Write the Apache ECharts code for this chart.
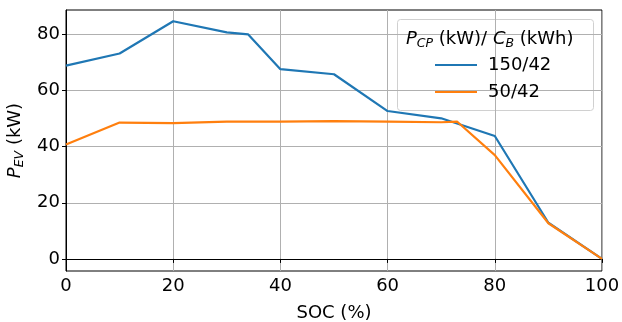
<!DOCTYPE html>
<html><head><meta charset="utf-8">
<script src="https://cdn.jsdelivr.net/npm/echarts@6/dist/echarts.min.js"></script>
<style>html,body{margin:0;padding:0;background:#fff}#c{width:622px;height:322px}</style>
</head><body><div id="c"></div>
<script>
const soc150 = [0, 10, 20, 30, 34, 40, 50, 60, 70, 80, 90, 100];
const pev150 = [68.9, 73.2, 84.7, 80.7, 80.0, 67.6, 65.8, 52.7, 50.1, 43.8, 12.9, 0];
const soc50 = [0, 10, 20, 30, 40, 50, 60, 70, 73, 80, 90, 100];
const pev50 = [40.8, 48.6, 48.4, 48.9, 48.9, 49.1, 48.9, 48.7, 48.9, 37.0, 12.7, 0];
const xTicks = [0, 20, 40, 60, 80, 100];
const yTicks = [0, 20, 40, 60, 80];
const seriesNames = ['150/42', '50/42'];

const font = 'DejaVu Sans';
const fs = 18;
const sfs = 12.5;
const chart = echarts.init(document.getElementById('c'), null, {renderer: 'canvas'});
const toPairs = (xs, ys) => xs.map((x, i) => [x, ys[i]]);
chart.setOption({
  animation: false,
  grid: {left: 66, right: 20, top: 10, bottom: 51, outerBoundsMode: 'none', containLabel: false,
         show: true, borderColor: '#000', borderWidth: 1, backgroundColor: 'transparent'},
  xAxis: {
    type: 'value', min: 0, max: 100, interval: 20,
    name: 'SOC (%)', nameLocation: 'middle', nameGap: 33,
    nameTextStyle: {fontFamily: font, fontSize: fs, color: '#000'},
    axisLine: {show: true, lineStyle: {color: '#000', width: 1}},
    axisTick: {show: true, length: 4, lineStyle: {color: '#000'}},
    axisLabel: {fontFamily: font, fontSize: fs, color: '#000', margin: 6},
    splitLine: {show: true, lineStyle: {color: '#b0b0b0', width: 1}}
  },
  yAxis: {
    type: 'value', min: -4.3, max: 88.7,
    axisLine: {show: true, onZero: false, lineStyle: {color: '#000', width: 1}},
    axisTick: {show: true, length: 4, customValues: yTicks, lineStyle: {color: '#000'}},
    axisLabel: {fontFamily: font, fontSize: fs, color: '#000', margin: 6, customValues: yTicks},
    splitLine: {show: true, customValues: yTicks, lineStyle: {color: '#b0b0b0', width: 1}},
    name: '{i|P}{sub|EV}{n| (kW)}', nameLocation: 'middle', nameRotate: 90, nameGap: 39,
    nameTextStyle: {
      rich: {
        i: {fontFamily: font, fontSize: fs, fontStyle: 'italic', color: '#000'},
        sub: {fontFamily: font, fontSize: sfs, fontStyle: 'italic', color: '#000', padding: [9, 0, 0, 0]},
        n: {fontFamily: font, fontSize: fs, color: '#000'}
      }
    }
  },
  title: {
    text: '{i|P}{sub|CP}{n| (kW)/ }{i|C}{sub|B}{n| (kWh)}',
    left: 401, top: 23,
    textStyle: {
      fontWeight: 'normal',
      rich: {
        i: {fontFamily: font, fontSize: fs, fontStyle: 'italic', fontWeight: 'normal', color: '#000'},
        sub: {fontFamily: font, fontSize: sfs, fontStyle: 'italic', fontWeight: 'normal', color: '#000', padding: [9, 0, 0, 0]},
        n: {fontFamily: font, fontSize: fs, fontWeight: 'normal', color: '#000'}
      }
    }
  },
  graphic: [{
    type: 'rect', left: 397, top: 19, z: 0,
    shape: {width: 196, height: 91, r: 3},
    style: {fill: 'rgba(255,255,255,0.8)', stroke: '#d0d0d0', lineWidth: 1}
  }],
  legend: {
    data: seriesNames, orient: 'vertical', left: 430, top: 51,
    itemWidth: 42, itemHeight: 2, itemGap: 9,
    icon: 'rect',
    textStyle: {fontFamily: font, fontSize: fs, color: '#000', padding: [0, 0, 0, 6]}
  },
  series: [
    {name: seriesNames[0], type: 'line', data: toPairs(soc150, pev150), showSymbol: false, symbol: 'none',
     lineStyle: {color: '#1f77b4', width: 2.2}, itemStyle: {color: '#1f77b4'}, z: 3},
    {name: seriesNames[1], type: 'line', data: toPairs(soc50, pev50), showSymbol: false, symbol: 'none',
     lineStyle: {color: '#ff7f0e', width: 2.2}, itemStyle: {color: '#ff7f0e'}, z: 4}
  ]
});
</script></body></html>
